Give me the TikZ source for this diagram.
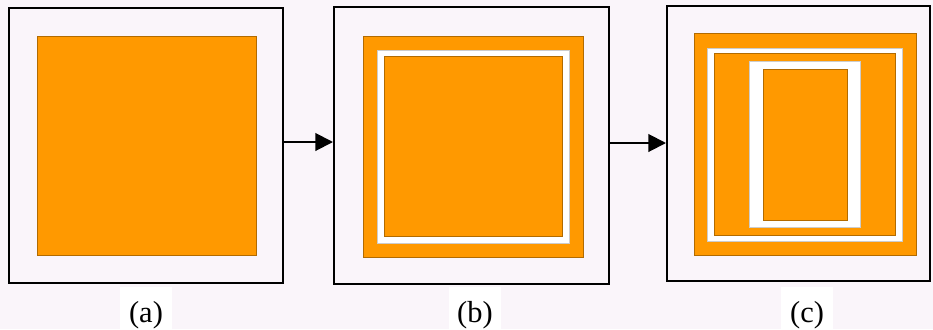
\documentclass[tikz,border=0pt]{standalone}
\usepackage{fontspec}
\setmainfont{Liberation Serif}
\usetikzlibrary{arrows.meta}
\definecolor{bgpink}{RGB}{250,245,250}
\definecolor{layer}{RGB}{255,153,0}
\begin{document}
\begin{tikzpicture}[x=0.03cm,y=-0.03cm,
  frame/.style={draw, line width=1.7pt, fill=bgpink},
  film/.style={fill=layer, draw=layer!70!black, line width=0.3pt},
  gap/.style={fill=white, draw=white!80!black, line width=0.3pt},
  caption/.style={fill=white, anchor=base, inner ysep=0pt, text height=30pt, text depth=6pt, minimum width=1.56cm, font=\fontsize{26}{30}\selectfont},
  link/.style={line width=1.7pt, -{Triangle[length=15pt,width=15pt]}}]
\fill[bgpink] (0,0) rectangle (933,329);
\useasboundingbox (0,0) rectangle (933,329);
% frames
\node[frame, minimum width=8.22cm, minimum height=8.25cm] (fa) at (146,145.5) {};
\node[frame, minimum width=8.25cm, minimum height=8.31cm] (fb) at (471.5,145.5) {};
\node[frame, minimum width=7.89cm, minimum height=8.25cm] (fc) at (798.5,143.5) {};
% (a)
\draw[film] (37,36) rectangle (256,255);
% (b)
\draw[film] (363,36) rectangle (583,257);
\draw[gap] (377,50) rectangle (569,243);
\draw[film] (384,56) rectangle (562,236);
% (c)
\draw[film] (694,33) rectangle (916,255);
\draw[gap] (707,48) rectangle (902,241);
\draw[film] (714,53) rectangle (895,235);
\draw[gap] (749,61) rectangle (860,227);
\draw[film] (763,69) rectangle (847,220);
% arrows
\draw[link] (fa.east |- 0,142) -- (fb.west |- 0,142);
\draw[link] (fb.east |- 0,143) -- (fc.west |- 0,143);
% captions
\node[caption] (la) at (146,322) {(a)};
\node[caption] (lb) at (475,322) {(b)};
\node[caption] (lc) at (807,322) {(c)};
\end{tikzpicture}
\end{document}
